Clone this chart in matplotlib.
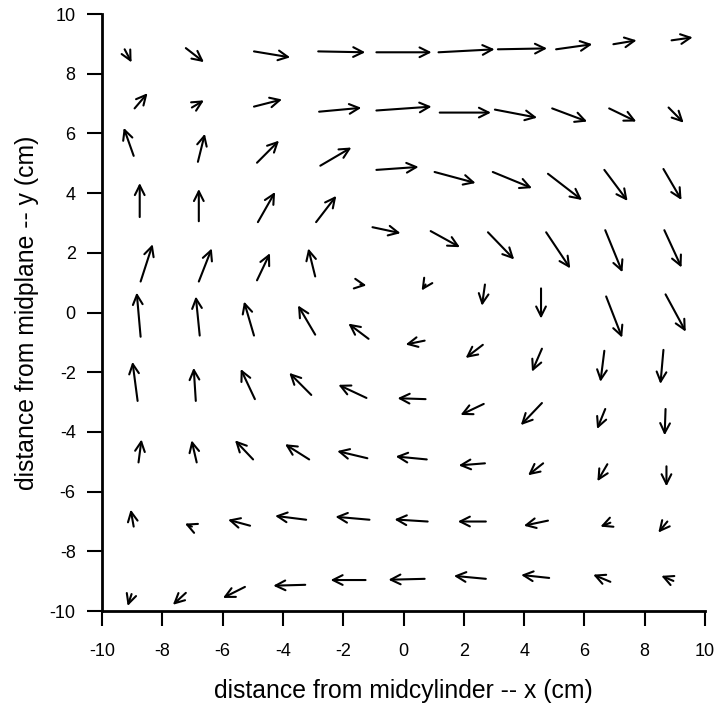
import numpy as np
import matplotlib
matplotlib.use("Agg")
import matplotlib.pyplot as plt

# measured velocity field, one row of the grid per line (top to bottom)
x_tail = [
    [-9.25, -7.22, -4.96, -2.83, -0.90, 1.16, 3.13, 5.06, 6.96, 8.89],
    [-8.92, -7.02, -4.96, -2.80, -0.90, 1.20, 3.03, 4.93, 6.82, 8.79],
    [-8.95, -6.82, -4.86, -2.76, -0.90, 1.03, 2.96, 4.79, 6.66, 8.62],
    [-8.75, -6.79, -4.83, -2.90, -1.03, 0.90, 2.80, 4.73, 6.69, 8.65],
    [-8.72, -6.79, -4.86, -2.93, -1.43, 0.73, 2.70, 4.56, 6.72, 8.69],
    [-8.72, -6.76, -4.96, -2.93, -1.16, 0.70, 2.63, 4.59, 6.66, 8.62],
    [-8.82, -6.89, -4.93, -3.06, -1.23, 0.73, 2.66, 4.59, 6.69, 8.69],
    [-8.79, -6.86, -4.99, -3.13, -1.20, 0.77, 2.70, 4.63, 6.76, 8.72],
    [-8.95, -7.02, -5.09, -3.23, -1.13, 0.80, 2.73, 4.79, 6.86, 8.75],
    [-9.02, -7.22, -5.26, -3.26, -1.26, 0.70, 2.73, 4.83, 6.86, 8.95],
]
y_tail = [
    [8.82, 8.86, 8.75, 8.75, 8.72, 8.72, 8.82, 8.82, 8.99, 9.12],
    [6.84, 6.87, 6.90, 6.73, 6.77, 6.70, 6.80, 6.84, 6.84, 6.87],
    [5.25, 5.05, 5.02, 4.92, 4.78, 4.71, 4.71, 4.65, 4.78, 4.81],
    [3.20, 3.06, 3.03, 3.03, 2.86, 2.73, 2.69, 2.69, 2.76, 2.76],
    [1.04, 1.04, 1.08, 1.21, 0.94, 0.94, 0.94, 0.81, 0.54, 0.61],
    [-0.81, -0.77, -0.77, -0.74, -0.88, -0.94, -1.08, -1.21, -1.28, -1.25],
    [-2.96, -2.96, -2.90, -2.76, -2.86, -2.90, -3.06, -3.03, -3.23, -3.23],
    [-5.02, -5.02, -4.92, -4.92, -4.88, -4.92, -5.05, -5.05, -5.08, -5.15],
    [-7.17, -7.17, -7.14, -6.94, -6.94, -7.00, -7.00, -6.97, -7.04, -7.00],
    [-9.43, -9.39, -9.19, -9.12, -8.96, -8.92, -8.92, -8.89, -9.02, -8.99],
]
u = [
    [0.23, 0.60, 1.20, 1.56, 1.83, 1.86, 1.63, 1.20, 0.77, 0.70],
    [0.43, 0.40, 0.93, 1.40, 1.83, 1.70, 1.40, 1.16, 0.90, 0.50],
    [-0.33, 0.23, 0.73, 1.03, 1.40, 1.36, 1.30, 1.13, 0.77, 0.60],
    [0.00, 0.00, 0.57, 0.67, 0.93, 0.97, 0.87, 0.80, 0.57, 0.57],
    [0.40, 0.43, 0.43, -0.23, 0.20, -0.13, -0.10, 0.00, 0.53, 0.67],
    [-0.13, -0.13, -0.33, -0.57, -0.67, -0.63, -0.57, -0.33, -0.13, -0.10],
    [-0.17, -0.07, -0.47, -0.73, -0.93, -0.93, -0.77, -0.70, -0.27, -0.03],
    [0.10, -0.17, -0.60, -0.80, -1.00, -1.03, -0.87, -0.50, -0.33, 0.00],
    [-0.10, -0.23, -0.73, -1.03, -1.13, -1.10, -0.93, -0.80, -0.33, -0.30],
    [-0.13, -0.43, -0.73, -1.06, -1.16, -1.20, -1.06, -0.93, -0.57, -0.40],
]
v = [
    [-0.44, -0.47, -0.20, -0.03, 0.00, 0.10, 0.03, 0.17, 0.13, 0.10],
    [0.51, 0.24, 0.24, 0.13, 0.13, 0.00, -0.27, -0.44, -0.44, -0.51],
    [0.94, 0.94, 0.74, 0.61, 0.10, -0.37, -0.54, -0.88, -1.04, -1.04],
    [1.14, 1.08, 1.01, 0.88, -0.20, -0.54, -0.91, -1.21, -1.41, -1.25],
    [1.25, 1.11, 0.91, 0.94, -0.03, -0.20, -0.71, -1.01, -1.38, -1.25],
    [1.48, 1.31, 1.14, 0.98, 0.51, -0.13, -0.44, -0.77, -1.04, -1.14],
    [1.31, 1.11, 1.01, 0.74, 0.44, 0.03, -0.37, -0.74, -0.67, -0.88],
    [0.77, 0.74, 0.64, 0.51, 0.24, 0.10, -0.07, -0.40, -0.57, -0.67],
    [0.57, 0.10, 0.20, 0.13, 0.10, 0.07, 0.00, -0.17, -0.13, -0.37],
    [-0.40, -0.40, -0.37, -0.03, 0.00, -0.03, 0.10, 0.10, 0.24, 0.17],
]
ticks = [-10, -8, -6, -4, -2, 0, 2, 4, 6, 8, 10]

plt.rcParams['font.family'] = ['Liberation Sans', 'DejaVu Sans']
plt.rcParams['axes.unicode_minus'] = False

fig = plt.figure(figsize=(7.19, 7.04), dpi=100)
ax = fig.add_axes([0.1419, 0.132, 0.8387, 0.848])

X = np.array(x_tail).ravel()
Y = np.array(y_tail).ravel()
U = np.array(u).ravel()
V = np.array(v).ravel()

# open "->" heads like the original
for x0, y0, du, dv in zip(X, Y, U, V):
    ax.annotate('', xy=(x0 + du, y0 + dv), xytext=(x0, y0),
                xycoords='data', textcoords='data',
                arrowprops=dict(arrowstyle='->, head_length=0.7, head_width=0.35',
                                color='black', lw=1.5, shrinkA=0, shrinkB=0))

ax.set_xlim(-10, 10)
ax.set_ylim(-10, 10)
ax.set_xticks(ticks)
ax.set_yticks(ticks)
ax.spines['top'].set_visible(False)
ax.spines['right'].set_visible(False)
ax.spines['left'].set_linewidth(2)
ax.spines['bottom'].set_linewidth(2)
ax.tick_params(direction='out', length=11, width=1.5, labelsize=13)
ax.tick_params(axis='x', pad=12)
ax.tick_params(axis='y', pad=8)

ax.set_xlabel('distance from midcylinder -- x (cm)', fontsize=17.8, labelpad=14)
ax.set_ylabel('distance from midplane -- y (cm)', fontsize=17.8, labelpad=8)

fig.savefig('out.png', dpi=100)
